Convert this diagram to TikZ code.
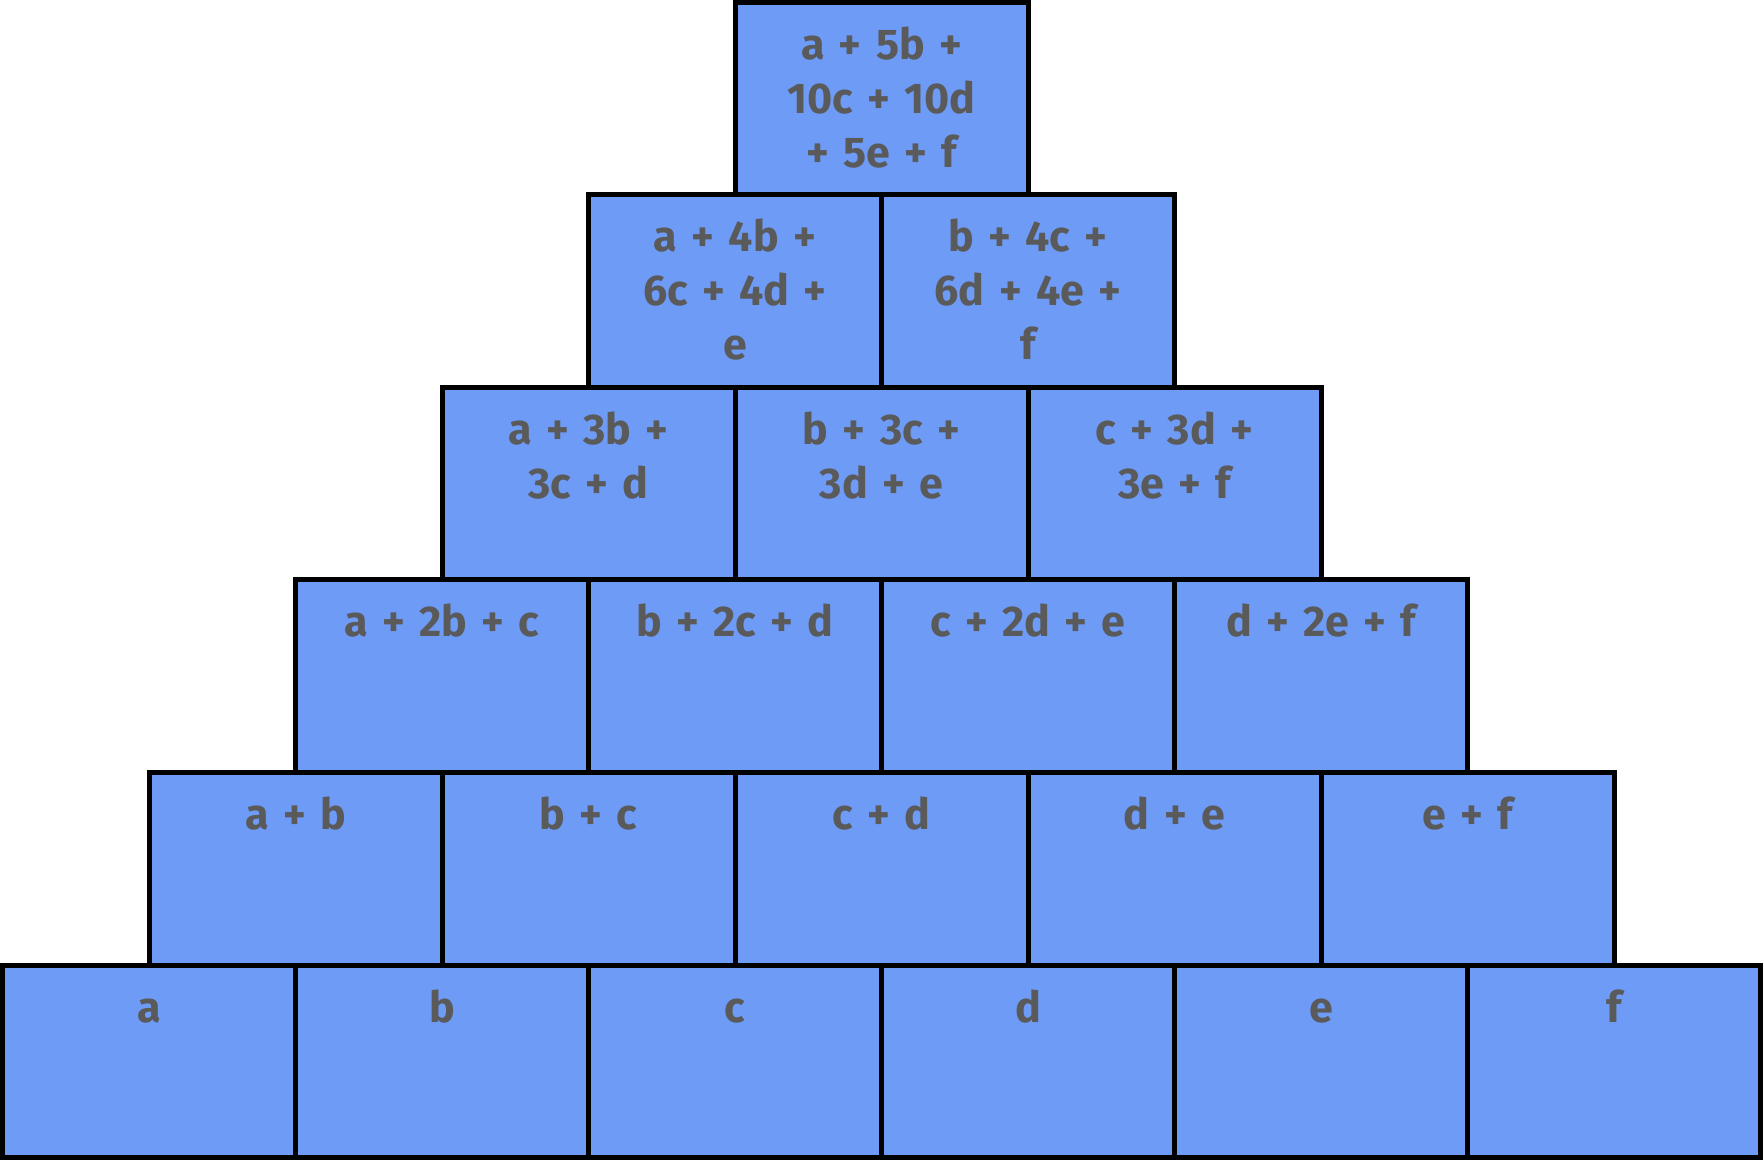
\documentclass[tikz,border=0pt]{standalone}
\usepackage{fontspec}
\setmainfont{Fira Sans}[WordSpace=1.75]
\usepackage{tikz}
\definecolor{brickblue}{RGB}{110,155,246}
\definecolor{brickgrey}{RGB}{90,90,90}

\begin{document}
\begin{tikzpicture}[x=0.5pt, y=-0.5pt,
	brick/.style={draw, line width=2.5pt, fill=brickblue, text=brickgrey,
		minimum width=146.5pt, minimum height=96.25pt, inner sep=0pt,
		text width=146.5pt, align=center, text height=28.5pt, text depth=67.75pt,
		font=\fontsize{21.5}{27}\selectfont\bfseries}]
\useasboundingbox (0,0) rectangle (1763,1160);

\node[brick] (A0) at (149,1061.25) {a};
\node[brick] (A1) at (442,1061.25) {b};
\node[brick] (A2) at (735,1061.25) {c};
\node[brick] (A3) at (1028,1061.25) {d};
\node[brick] (A4) at (1321,1061.25) {e};
\node[brick] (A5) at (1614,1061.25) {f};

\node[brick] (B0) at (295.5,868.75) {a + b};
\node[brick] (B1) at (588.5,868.75) {b + c};
\node[brick] (B2) at (881.5,868.75) {c + d};
\node[brick] (B3) at (1174.5,868.75) {d + e};
\node[brick] (B4) at (1467.5,868.75) {e + f};

\node[brick] (C0) at (442,676.25) {a + 2b + c};
\node[brick] (C1) at (735,676.25) {b + 2c + d};
\node[brick] (C2) at (1028,676.25) {c + 2d + e};
\node[brick] (C3) at (1321,676.25) {d + 2e + f};

\node[brick] (D0) at (588.5,483.75) {a + 3b +\\3c + d};
\node[brick] (D1) at (881.5,483.75) {b + 3c +\\3d + e};
\node[brick] (D2) at (1174.5,483.75) {c + 3d +\\3e + f};

\node[brick] (E0) at (735,291.25) {a + 4b +\\6c + 4d +\\e};
\node[brick] (E1) at (1028,291.25) {b + 4c +\\6d + 4e +\\f};

\node[brick] (F0) at (881.5,98.75) {a + 5b +\\10c + 10d\\+ 5e + f};
\end{tikzpicture}
\end{document}
